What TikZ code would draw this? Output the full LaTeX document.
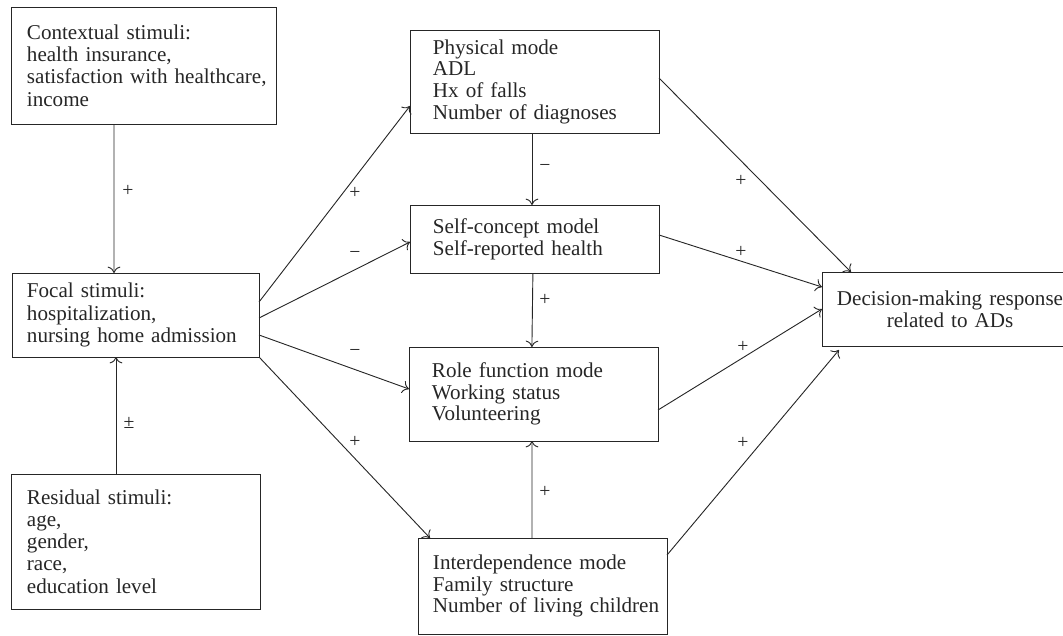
\documentclass[tikz,border=0pt]{standalone}
\usepackage{fontspec}
\setmainfont{Liberation Serif}
\usetikzlibrary{arrows.meta}

\begin{document}
\begin{tikzpicture}
  [x=0.025cm,y=-0.025cm,
  stim/.style={rectangle,draw=black!85,line width=0.65pt,align=left,
                  inner ysep=0pt,outer sep=0,text=black!85,
                  font=\fontsize{15}{15.8}\selectfont,
                  execute at begin node={\hyphenpenalty=10000 }},
  mode/.style={rectangle,draw=black!85,line width=0.65pt,align=left,
                  inner ysep=0pt,outer sep=0,text=black!85,
                  font=\fontsize{15}{15.4}\selectfont,
                  execute at begin node={\hyphenpenalty=10000 }},
  resp/.style={rectangle,draw=black!85,line width=0.65pt,align=center,
                  inner ysep=0pt,outer sep=0,text=black!85,
                  font=\fontsize{15}{15.8}\selectfont},
  link/.style={draw=black!85,line width=0.65pt,-{To[length=4.5pt,width=9pt]}},
  sign/.style={inner sep=0pt,text=black!85,font=\fontsize{14}{14}\selectfont}
  ]
  \useasboundingbox (0,0) rectangle (1063,636);

  % stimuli
  \node[stim,text width=5.825cm,inner xsep=0.4cm,minimum height=2.925cm]
    (ctx) at (143.5,65.5) {Contextual stimuli:\\health insurance,\\\mbox{satisfaction with healthcare,}\\income};
  \node[stim,text width=5.425cm,inner xsep=0.375cm,minimum height=2.1cm]
    (foc) at (135.5,315) {Focal stimuli:\\hospitalization,\\\mbox{nursing home admission}};
  \node[stim,text width=5.425cm,inner xsep=0.4cm,minimum height=3.375cm]
    (res) at (135.5,541.5) {Residual stimuli:\\age,\\gender,\\race,\\education level};

  % adaptive modes
  \node[mode,text width=5.075cm,inner xsep=0.575cm,minimum height=2.575cm]
    (phys) at (534.5,81.5) {Physical mode\\ADL\\Hx of falls\\Number of diagnoses};
  \node[mode,text width=5.075cm,inner xsep=0.575cm,minimum height=1.7cm]
    (self) at (534.5,239) {Self-concept model\\Self-reported health};
  \node[mode,text width=5.075cm,inner xsep=0.575cm,minimum height=2.35cm]
    (role) at (533.5,394) {Role function mode\\Working status\\Volunteering};
  \node[mode,text width=5.475cm,inner xsep=0.375cm,minimum height=2.4cm]
    (inter) at (542.5,586) {Interdependence mode\\Family structure\\\mbox{Number of living children}};

  % response
  \node[resp,text width=6cm,inner xsep=0.2cm,minimum height=1.85cm]
    (dec) at (950,309) {Decision-making response\\related to ADs};

  \draw[link] ([xshift=2.575cm]ctx.south west) to ([xshift=2.55cm]foc.north west);
  \draw[link] ([xshift=2.625cm]res.north west) to ([xshift=2.6cm]foc.south west);
  \draw[link] ([yshift=0.325cm]foc.east) to ([yshift=-0.6125cm]phys.west);
  \draw[link] ([yshift=-0.075cm]foc.east) to ([yshift=-0.075cm]self.west);
  \draw[link] ([yshift=-0.5cm]foc.east) to ([yshift=0.125cm]role.west);
  \draw[link] (foc.south east) to ([xshift=0.3cm]inter.north west);
  \draw[link] ([xshift=-0.0625cm]phys.south) to ([xshift=-0.0625cm]self.north);
  \draw[link] ([xshift=-0.04cm]self.south) to ([xshift=-0.04cm]role.north);
  \draw[link] ([xshift=-0.2625cm]inter.north) to ([xshift=-0.0375cm]role.south);
  \draw[link] ([yshift=0.0875cm]phys.east) to ([xshift=0.725cm]dec.north west);
  \draw[link] ([yshift=0.1cm]self.east) to ([yshift=0.55cm]dec.west);
  \draw[link] ([yshift=-0.4cm]role.east) to (dec.west);
  \draw[link] ([yshift=0.775cm]inter.east) to ([xshift=0.425cm,yshift=-0.1cm]dec.south west);

  \node[sign] (s1) at (128,191) {+};
  \node[sign] (s2) at (129,423) {±};
  \node[sign] (s3) at (355,193) {+};
  \node[sign] (s4) at (355,255) {−};
  \node[sign] (s5) at (355,353) {−};
  \node[sign] (s6) at (355,442) {+};
  \node[sign] (s7) at (545,168) {−};
  \node[sign] (s8) at (545,300) {+};
  \node[sign] (s9) at (545,492) {+};
  \node[sign] (s10) at (741,181) {+};
  \node[sign] (s11) at (741,252) {+};
  \node[sign] (s12) at (743,347) {+};
  \node[sign] (s13) at (743,443) {+};
\end{tikzpicture}
\end{document}
